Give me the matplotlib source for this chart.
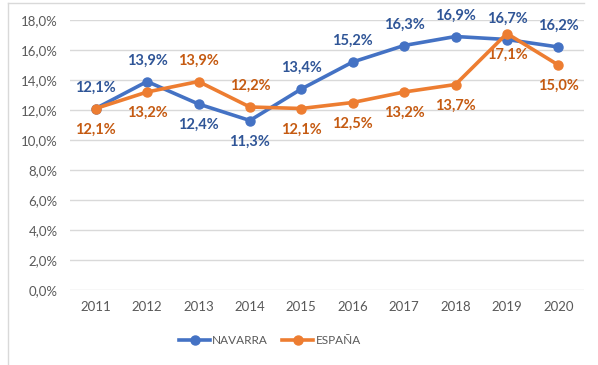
import matplotlib.pyplot as plt
from matplotlib.lines import Line2D

years = ['2011', '2012', '2013', '2014', '2015', '2016', '2017', '2018', '2019', '2020']
navarra = [12.1, 13.9, 12.4, 11.3, 13.4, 15.2, 16.3, 16.9, 16.7, 16.2]
espana = [12.1, 13.2, 13.9, 12.2, 12.1, 12.5, 13.2, 13.7, 17.1, 15.0]
# label placement: +1 above the point, -1 below
navarra_pos = [1, 1, -1, -1, 1, 1, 1, 1, 1, 1]
espana_pos = [-1, -1, 1, 1, -1, -1, -1, -1, -1, -1]

plt.rcParams['font.family'] = ['Lato', 'DejaVu Sans']

W, H = 598, 365
fig = plt.figure(figsize=(W / 100, H / 100), dpi=100)
ax = fig.add_axes([70 / W, 1 - 290 / H, (584 - 70) / W, (290 - 20) / H])

blue, orange = '#4472C4', '#ED7D31'
blue_txt, orange_txt = '#2F5597', '#C55A11'

x = list(range(len(years)))
ax.plot(x, navarra, color=blue, lw=2.6, marker='o', ms=6.5, solid_capstyle='round', zorder=3)
ax.plot(x, espana, color=orange, lw=2.6, marker='o', ms=6.5, solid_capstyle='round', zorder=4)

def fmt(v):
    return f'{v:.1f}%'.replace('.', ',')

for xi, v, p in zip(x, navarra, navarra_pos):
    ax.annotate(fmt(v), (xi, v), xytext=(0, 15 * p), textcoords='offset points',
                ha='center', va='center', color=blue_txt, fontsize=10.5, fontweight='bold')
for xi, v, p in zip(x, espana, espana_pos):
    ax.annotate(fmt(v), (xi, v), xytext=(0, 15 * p), textcoords='offset points',
                ha='center', va='center', color=orange_txt, fontsize=10.5, fontweight='bold')

ax.set_xlim(-0.5, 9.5)
ax.set_ylim(0, 18)
ax.set_yticks(range(0, 19, 2))
ax.set_yticklabels([fmt(t) for t in range(0, 19, 2)])
ax.set_xticks(x)
ax.set_xticklabels(years)
ax.tick_params(length=0, labelsize=9.5, colors='#595959', pad=8)
ax.tick_params(axis='y', pad=9)
ax.grid(axis='y', color='#D9D9D9', lw=1)
ax.set_axisbelow(True)
for s in ax.spines.values():
    s.set_visible(False)

handles = [Line2D([], [], color=blue, lw=2.6, marker='o', ms=6.5),
           Line2D([], [], color=orange, lw=2.6, marker='o', ms=6.5)]
fig.legend(handles, ['NAVARRA', 'ESPAÑA'], loc='center', bbox_to_anchor=(270 / W, 1 - 341 / H),
           ncol=2, frameon=False, fontsize=8.5, labelcolor='#595959', handlelength=2.6,
           handletextpad=0.2, columnspacing=1.2)

# chart frame: top and left edges
fig.add_artist(Line2D([8 / W, 584 / W], [1 - 3 / H, 1 - 3 / H], color='#D9D9D9', lw=1))
fig.add_artist(Line2D([8 / W, 8 / W], [0, 1 - 3 / H], color='#D9D9D9', lw=1))

fig.savefig('out.png', dpi=100)
